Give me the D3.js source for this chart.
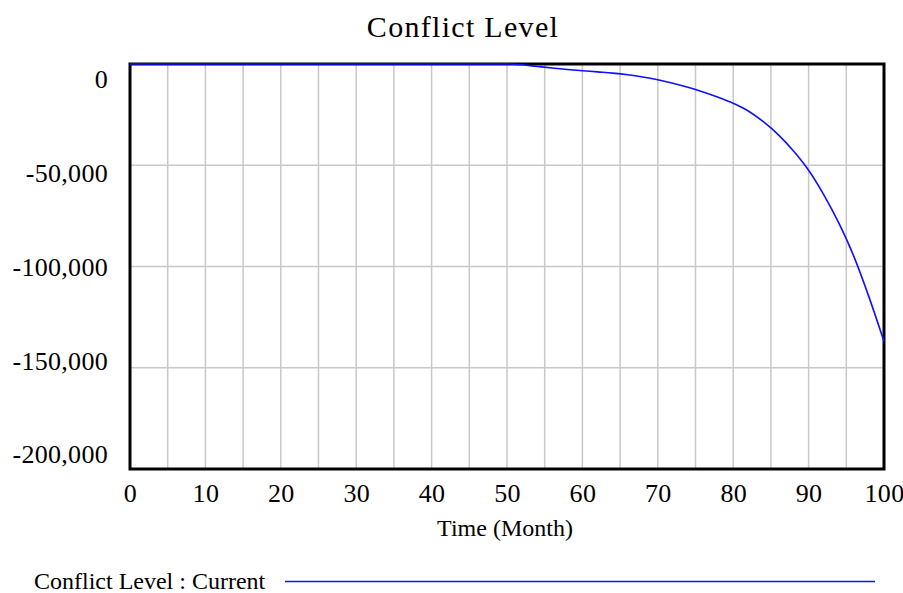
<!DOCTYPE html>
<html><head><meta charset="utf-8">
<script src="https://cdn.jsdelivr.net/npm/d3@7"></script>
<style>body{margin:0;background:#fff}svg{display:block}</style>
</head><body>
<svg id="c" width="903" height="593"></svg>
<script>
const times = [0,5,10,15,20,25,30,35,40,45,50,52,54,56,58,60,62,64,66,68,70,72,74,76,78,80,82,84,86,88,90,92,94,96,98,100];
const conflictLevel = [0,0,0,0,0,0,0,0,0,0,0,-400,-1200,-2000,-2700,-3300,-3900,-4500,-5300,-6400,-7800,-9500,-11500,-13800,-16400,-19400,-23200,-28500,-35000,-43000,-52500,-64500,-78500,-95000,-115000,-137000];
const xTicks = [0,10,20,30,40,50,60,70,80,90,100];
const yTicks = [0,-50000,-100000,-150000,-200000];
const titleText = "Conflict Level";
const xLabel = "Time (Month)";
const legendLabel = "Conflict Level : Current";

const svg = d3.select("#c");
const L=130,R=884,T=64,B=469;
const x = d3.scaleLinear().domain([0,100]).range([L,R]);
const y = d3.scaleLinear().domain([-200000,0]).range([B,T]);
const yLab = d3.scaleLinear().domain([0,-200000]).range([79,454]);
const font = "'Liberation Serif','Times New Roman',serif";

// grid
svg.append("g").selectAll("line").data(d3.range(5,100,5)).join("line")
  .attr("x1",d=>x(d)).attr("x2",d=>x(d)).attr("y1",T).attr("y2",B)
  .attr("stroke","#c8c8c8").attr("stroke-width",1.5);
svg.append("g").selectAll("line").data(yTicks.slice(1,-1)).join("line")
  .attr("y1",d=>y(d)).attr("y2",d=>y(d)).attr("x1",L).attr("x2",R)
  .attr("stroke","#c8c8c8").attr("stroke-width",1.5);

// frame
svg.append("rect").attr("x",L).attr("y",T).attr("width",R-L).attr("height",B-T)
  .attr("fill","none").attr("stroke","#000").attr("stroke-width",3);

// x axis labels
const xa = svg.append("g").attr("transform",`translate(0,${B})`)
  .call(d3.axisBottom(x).tickValues(xTicks).tickSize(0).tickFormat(d3.format("d")));
xa.select(".domain").remove();
xa.selectAll("text").attr("font-family",font).attr("font-size",26).attr("letter-spacing",0.3)
  .attr("fill","#000").attr("dy",null).attr("y",33);

// y axis labels
const ya = svg.append("g").attr("transform",`translate(${L},0)`)
  .call(d3.axisLeft(y).tickValues(yTicks).tickSize(0).tickPadding(22)
    .tickFormat(d=>d3.format(",")(d).replace("\u2212","-")));
ya.select(".domain").remove();
ya.selectAll("text").attr("font-family",font).attr("font-size",26).attr("letter-spacing",0.3)
  .attr("fill","#000").attr("y",d=>yLab(d)-y(d)).attr("dy","0.34em");

// line
const line = d3.line().curve(d3.curveMonotoneX).x((d,i)=>x(times[i])).y(d=>y(d));
svg.append("path").datum(conflictLevel).attr("d",line)
  .attr("fill","none").attr("stroke","#1010ff").attr("stroke-width",1.6);

// title
svg.append("text").attr("x",463).attr("y",37).attr("text-anchor","middle")
  .attr("font-family",font).attr("font-size",30).attr("letter-spacing",1.3).text(titleText);
svg.append("text").attr("x",505).attr("y",536).attr("text-anchor","middle")
  .attr("font-family",font).attr("font-size",24).text(xLabel);

// legend
svg.append("text").attr("x",34).attr("y",589).attr("font-family",font).attr("font-size",24).text(legendLabel);
svg.append("line").attr("x1",285).attr("x2",875).attr("y1",581.5).attr("y2",581.5)
  .attr("stroke","#1010ff").attr("stroke-width",1.6);
</script>
</body></html>
